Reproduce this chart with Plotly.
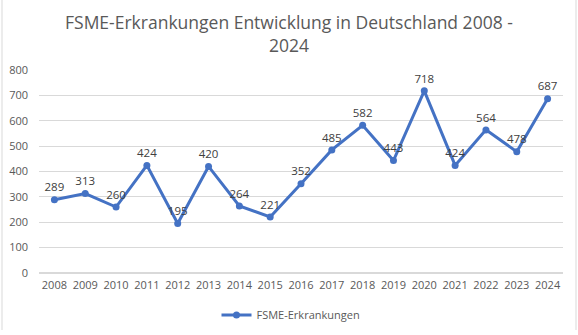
import plotly.graph_objects as go

# FSME cases in Germany per year
years = [str(y) for y in range(2008, 2025)]
cases = [289, 313, 260, 424, 195, 420, 264, 221, 352, 485, 582, 443, 718, 424, 564, 478, 687]
y_ticks = [0, 100, 200, 300, 400, 500, 600, 700, 800]

line_color = "#4472C4"
text_color = "#595959"
font_family = "Open Sans, Noto Sans, sans-serif"

fig = go.Figure()
fig.add_trace(go.Scatter(
    x=years,
    y=cases,
    mode="lines+markers+text",
    name="FSME-Erkrankungen",
    line=dict(color=line_color, width=3),
    marker=dict(color=line_color, size=7),
    text=[str(v) for v in cases],
    textposition="top center",
    textfont=dict(size=11.5, color="#404040", family=font_family),
    cliponaxis=False,
))

W, H = 578, 335
ml, mr, mt, mb = 39, 15, 70, 62
pw, ph = W - ml - mr, H - mt - mb

def px_x(p):
    return (p - ml) / pw

def px_y(p):
    return (H - mb - p) / ph

# thin frame lines at the left and right edge of the chart area
shapes = [
    dict(type="line", xref="paper", yref="paper",
         x0=px_x(2), x1=px_x(2), y0=px_y(330), y1=px_y(0),
         line=dict(color="#D9D9D9", width=1)),
    dict(type="line", xref="paper", yref="paper",
         x0=px_x(576), x1=px_x(576), y0=px_y(330), y1=px_y(0),
         line=dict(color="#D9D9D9", width=1)),
]

title_annotation = dict(
    text="FSME-Erkrankungen Entwicklung in Deutschland 2008 -<br>2024",
    xref="paper", yref="paper",
    x=px_x(289), xanchor="center",
    y=px_y(33.5), yanchor="middle",
    showarrow=False,
    align="center",
    font=dict(size=17.5, color=text_color, family=font_family),
)

fig.update_layout(
    width=W, height=H,
    margin=dict(l=ml, r=mr, t=mt, b=mb, autoexpand=False),
    paper_bgcolor="white",
    plot_bgcolor="white",
    font=dict(family=font_family, color=text_color),
    annotations=[title_annotation],
    xaxis=dict(
        type="category",
        showgrid=False,
        showline=False,
        ticks="",
        tickfont=dict(size=11, color=text_color),
        range=[-0.5, len(years) - 0.5],
        ticklabelstandoff=4,
        automargin=False,
    ),
    yaxis=dict(
        range=[0, 800],
        tickvals=y_ticks,
        showgrid=True,
        gridcolor="#D9D9D9",
        gridwidth=1,
        zeroline=True,
        zerolinecolor="#D9D9D9",
        showline=False,
        ticks="",
        tickfont=dict(size=11, color=text_color),
        ticklabelstandoff=10,
        automargin=False,
    ),
    showlegend=True,
    legend=dict(
        orientation="h",
        x=px_x(291), xanchor="center",
        y=px_y(315), yanchor="middle",
        font=dict(size=11, color=text_color),
    ),
    shapes=shapes,
)

fig.write_html("out.html")
